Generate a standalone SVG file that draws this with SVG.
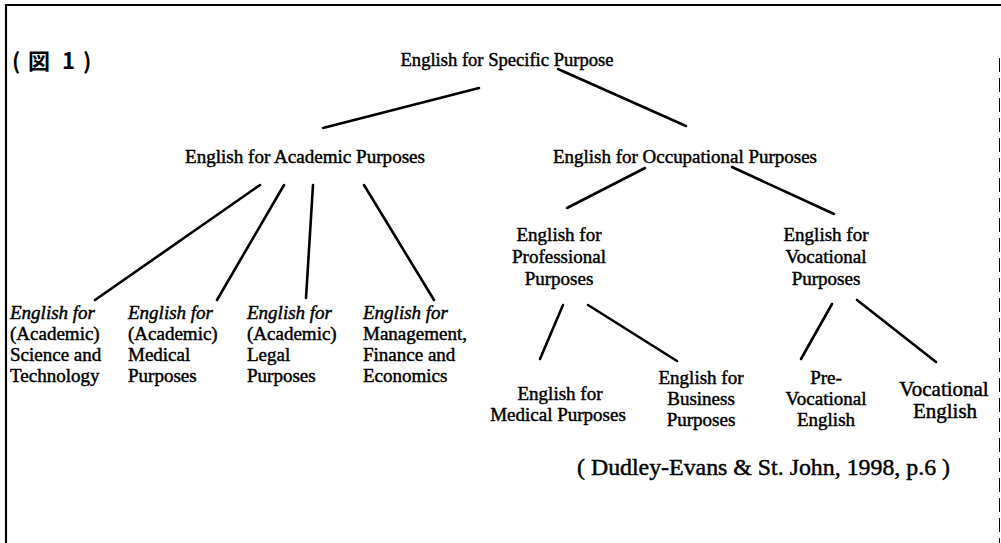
<svg xmlns="http://www.w3.org/2000/svg" width="1001" height="543" viewBox="0 0 1001 543">
<style>
.t{font-family:"Liberation Serif","Times New Roman",serif;font-size:19px;fill:#000;stroke:#000;stroke-width:0.45}
.c{text-anchor:middle}
.i{font-style:italic}
.big{font-size:21px}
.cit{font-size:23px}
.ttl{font-family:"Noto Sans CJK JP","Noto Sans",sans-serif;font-size:22px;font-weight:bold;fill:#000}
.ln{stroke:#000;stroke-width:2.6;stroke-linecap:round;fill:none}
.frame{stroke:#000;fill:none}
</style>
<rect width="1001" height="543" fill="#fff"/>
<g id="frame">
<line class="frame" x1="5" y1="5" x2="1001" y2="5" stroke-width="2"/>
<line class="frame" x1="6" y1="4" x2="6" y2="543" stroke-width="2.2"/>
<line class="frame" x1="999.5" y1="58" x2="999.5" y2="543" stroke-width="1" stroke-dasharray="14 6" stroke="#666"/>
</g>
<g id="title"><text class="ttl" x="12 28 62 83" y="69">(図1)</text></g>
<g id="connectors">
<line class="ln" x1="479" y1="88" x2="323" y2="128"/>
<line class="ln" x1="558" y1="69" x2="686" y2="126"/>
<line class="ln" x1="260" y1="185" x2="95" y2="300"/>
<line class="ln" x1="284" y1="185" x2="217" y2="300"/>
<line class="ln" x1="313" y1="185" x2="306" y2="298"/>
<line class="ln" x1="364" y1="185" x2="434" y2="300"/>
<line class="ln" x1="645" y1="168" x2="567" y2="208"/>
<line class="ln" x1="732" y1="167" x2="834" y2="214"/>
<line class="ln" x1="563" y1="305" x2="540" y2="359"/>
<line class="ln" x1="588" y1="305" x2="677" y2="361"/>
<line class="ln" x1="832" y1="304" x2="801" y2="359"/>
<line class="ln" x1="857" y1="300" x2="936" y2="362"/>
</g>
<g id="esp"><text class="t c" x="507" y="66" textLength="213" lengthAdjust="spacingAndGlyphs">English for Specific Purpose</text></g>
<g id="eap"><text class="t c" x="305" y="163" textLength="240" lengthAdjust="spacingAndGlyphs">English for Academic Purposes</text></g>
<g id="eop"><text class="t c" x="685" y="163" textLength="264" lengthAdjust="spacingAndGlyphs">English for Occupational Purposes</text></g>
<g id="est">
<text class="t i" x="10" y="319">English for</text>
<text class="t" x="10" y="340">(Academic)</text>
<text class="t" x="10" y="361">Science and</text>
<text class="t" x="10" y="382">Technology</text>
</g>
<g id="emed-academic">
<text class="t i" x="128" y="319">English for</text>
<text class="t" x="128" y="340">(Academic)</text>
<text class="t" x="128" y="361">Medical</text>
<text class="t" x="128" y="382">Purposes</text>
</g>
<g id="elegal">
<text class="t i" x="247" y="319">English for</text>
<text class="t" x="247" y="340">(Academic)</text>
<text class="t" x="247" y="361">Legal</text>
<text class="t" x="247" y="382">Purposes</text>
</g>
<g id="emfe">
<text class="t i" x="363" y="319">English for</text>
<text class="t" x="363" y="340">Management,</text>
<text class="t" x="363" y="361">Finance and</text>
<text class="t" x="363" y="382">Economics</text>
</g>
<g id="epp">
<text class="t c" x="559" y="241">English for</text>
<text class="t c" x="559" y="263">Professional</text>
<text class="t c" x="559" y="285">Purposes</text>
</g>
<g id="evp">
<text class="t c" x="826" y="241">English for</text>
<text class="t c" x="826" y="263">Vocational</text>
<text class="t c" x="826" y="285">Purposes</text>
</g>
<g id="emp">
<text class="t c" x="560" y="400">English for</text>
<text class="t c" x="558" y="421">Medical Purposes</text>
</g>
<g id="ebp">
<text class="t c" x="701" y="384">English for</text>
<text class="t c" x="701" y="405">Business</text>
<text class="t c" x="701" y="426">Purposes</text>
</g>
<g id="prevoc">
<text class="t c" x="826" y="384">Pre-</text>
<text class="t c" x="826" y="405">Vocational</text>
<text class="t c" x="826" y="426">English</text>
</g>
<g id="voc">
<text class="t c big" x="944" y="396">Vocational</text>
<text class="t c big" x="945" y="418">English</text>
</g>
<g id="citation"><text class="t cit" x="577" y="475" textLength="373" lengthAdjust="spacingAndGlyphs">( Dudley-Evans &amp; St. John, 1998, p.6 )</text></g>
</svg>
